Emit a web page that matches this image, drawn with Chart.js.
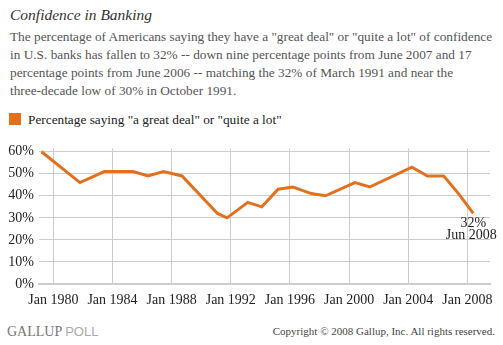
<!DOCTYPE html>
<html>
<head>
<meta charset="utf-8">
<script src="https://cdn.jsdelivr.net/npm/chart.js@4"></script>
<style>
  html, body { margin: 0; padding: 0; background: #fff; }
  body { width: 503px; height: 345px; position: relative; overflow: hidden; font-family: "Liberation Serif", serif; }
  #title { position: absolute; left: 10px; top: 6px; font-size: 15.5px; font-style: italic; color: #333; }
  #intro { position: absolute; left: 10px; top: 28px; font-size: 13.3px; line-height: 18px; color: #555; white-space: nowrap; }
  #legend { position: absolute; left: 9px; top: 112px; font-size: 13.3px; color: #222; }
  #legend span.box { display: inline-block; width: 12px; height: 12px; background: #e3701f; vertical-align: -1px; margin-right: 7px; }
  #chartBox { position: absolute; left: 0; top: 135px; width: 503px; height: 180px; }
  #logo { position: absolute; left: 7px; top: 324px; font-size: 14px; color: #777; }
  #logo .poll { font-family: "Liberation Sans", sans-serif; color: #aaa; font-size: 13px; }
  #copy { position: absolute; right: 8px; top: 325px; font-size: 11px; color: #444; }
</style>
</head>
<body>
<div id="title">Confidence in Banking</div>
<div id="intro">The percentage of Americans saying they have a "great deal" or "quite a lot" of confidence<br>in U.S. banks has fallen to 32% -- down nine percentage points from June 2007 and 17<br>percentage points from June 2006 -- matching the 32% of March 1991 and near the<br>three-decade low of 30% in October 1991.</div>
<div id="legend"><span class="box"></span>Percentage saying "a great deal" or "quite a lot"</div>
<div id="chartBox"><canvas id="chart" width="503" height="180"></canvas></div>
<div id="logo">GALLUP <span class="poll">POLL</span></div>
<div id="copy">Copyright © 2008 Gallup, Inc. All rights reserved.</div>

<script>
// survey dates as fractional years, with the share answering "great deal"/"quite a lot"
const surveyDates = [1979.2, 1981.8, 1983.45, 1985.4, 1986.4, 1987.45, 1988.7, 1991.1, 1991.75,
  1993.15, 1994.1, 1995.2, 1996.2, 1997.45, 1998.4, 2000.4, 2001.4, 2004.25, 2005.3, 2006.4,
  2007.4, 2008.4];
const confidence = [60, 46, 51, 51, 49, 51, 49, 32, 30, 37, 35, 43, 44, 41, 40, 46, 44, 53, 49,
  49, 41, 32];
const tickYears = [1980, 1984, 1988, 1992, 1996, 2000, 2004, 2008];
const pctTicks = [0, 10, 20, 30, 40, 50, 60];
const lastLabel = "Jun 2008";

const orange = "#e3701f";
const serif = "'Liberation Serif', serif";

// label for the latest reading, under the end of the line
const endLabel = {
  id: "endLabel",
  afterDatasetsDraw(chart) {
    const pts = chart.getDatasetMeta(0).data;
    const p = pts[pts.length - 1];
    const ctx = chart.ctx;
    ctx.save();
    ctx.font = "14px " + serif;
    ctx.fillStyle = "#222";
    ctx.textAlign = "center";
    ctx.textBaseline = "alphabetic";
    ctx.fillText(confidence[confidence.length - 1] + "%", p.x, p.y + 14);
    ctx.fillText(lastLabel, p.x - 2, p.y + 26);
    ctx.restore();
  }
};

new Chart(document.getElementById("chart"), {
  type: "line",
  data: {
    datasets: [{
      data: surveyDates.map((d, i) => ({ x: d, y: confidence[i] })),
      borderColor: orange,
      borderWidth: 3,
      pointRadius: 0,
      tension: 0,
      fill: false
    }]
  },
  options: {
    responsive: false,
    animation: false,
    layout: { padding: { top: 9, right: 13, left: 0, bottom: 0 } },
    plugins: { legend: { display: false }, tooltip: { enabled: false } },
    scales: {
      x: {
        type: "linear",
        min: 1979.03,
        max: 2009.53,
        afterBuildTicks: s => { s.ticks = tickYears.map(v => ({ value: v })); },
        afterFit: s => { s.height = 31; },
        ticks: {
          callback: v => "Jan " + v,
          font: { family: serif, size: 14 },
          color: "#222",
          padding: 8,
          maxRotation: 0,
          autoSkip: false
        },
        grid: { color: "#ccc", lineWidth: 1, drawTicks: false },
        border: { color: "#ccc", width: 2 }
      },
      y: {
        min: 0,
        max: 61.5,
        afterBuildTicks: s => { s.ticks = pctTicks.map(v => ({ value: v })); },
        afterFit: s => { s.width = 39; },
        ticks: {
          callback: v => v + "%",
          font: { family: serif, size: 14 },
          color: "#222",
          padding: 5
        },
        grid: { color: "#ccc", lineWidth: 1, drawTicks: false },
        border: { display: false }
      }
    }
  },
  plugins: [endLabel]
});
</script>
</body>
</html>
